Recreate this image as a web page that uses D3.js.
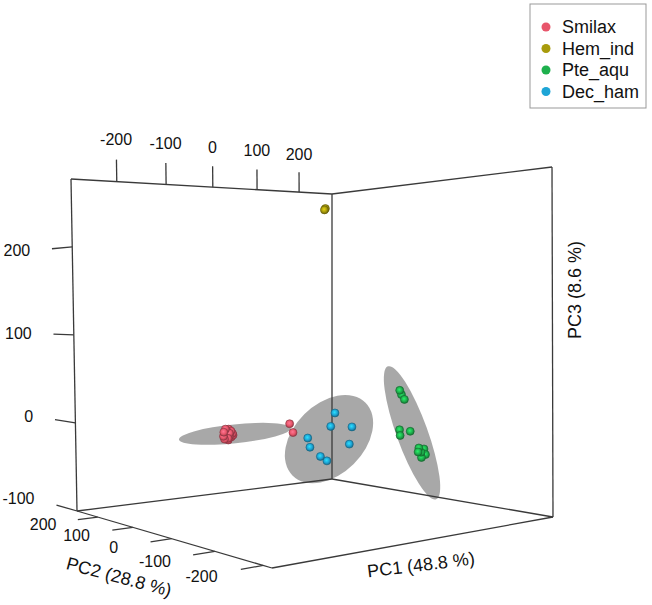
<!DOCTYPE html>
<html>
<head>
<meta charset="utf-8">
<script src="https://cdn.jsdelivr.net/npm/d3@7"></script>
<style>
body { margin: 0; background: #fff; }
svg { display: block; font-family: "Liberation Sans", Arial, sans-serif; }
</style>
</head>
<body>
<div id="chart"></div>
<script>
const groups = ['Smilax', 'Hem_ind', 'Pte_aqu', 'Dec_ham'];
const colors = ['#e8566b', '#a89b0c', '#1eb04d', '#1ea5d6'];

// sample scores: [PC1, PC2, PC3]
const smilax = [
    [-148, 48, -0.5], [-140, 50, -1], [-152, 47, -3.5], [-144, 49, -3],
    [-136, 46, -5.5], [-148, 50, -7], [-140, 48, -7.5], [-144, 47, -10.5],
    [-136, 49, -9.5], [-150, 48, -11], [-142, 46, -5], [-146, 50, -9],
    [-138, 47, -3], [-142, 49, -12.5], [-152, 48, -8], [-134, 47, -7.5],
    [-20, 45, -0.5], [-14, 44, -10.5]
];
const hemInd = [[17, 0, 235.5], [19, 0, 237]];
const pteAqu = [
    [103, -73, 37], [110, -70, 32], [110, -76, 27],
    [103, -72, -6], [101, -75, -12], [128, -71, -9],
    [144, -74, -28], [158, -72, -30], [140, -76, -32], [158, -75, -36],
    [151, -73, -39], [149, -74, -33]
];
const decHam = [
    [40, 5, 11], [22, -4, -2.5], [75, 3, -6], [-25, -2, -13],
    [-15, 4, -24], [61, -5, -24], [5, 2, -35], [14, -3, -40]
];

// bounding box of the plot (data units)
const pc1Range = [-288, 282];
const pc2Range = [-217, 264];
const pc3Range = [-100, 277];
const pc1Ticks = [-200, -100, 0, 100, 200];
const pc2Ticks = [200, 100, 0, -100, -200];
const pc3Ticks = [-100, 0, 100, 200];
const axisTitles = ['PC1 (48.8 %)', 'PC2 (28.8 %)', 'PC3 (8.6 %)'];

const width = 652, height = 605;

// where the 8 box corners land on screen, with their depth (perspective weight)
const boxCorners = [
    {u: 0, v: 0, w: 0, x: 272, y: 568, z: 0.775},
    {u: 1, v: 0, w: 0, x: 553, y: 517, z: 0.94},
    {u: 0, v: 1, w: 0, x: 77,  y: 511, z: 1},
    {u: 1, v: 1, w: 0, x: 332, y: 479, z: 1.165},
    {u: 0, v: 0, w: 1, x: 263, y: 141, z: 0.775},
    {u: 1, v: 0, w: 1, x: 552, y: 167, z: 0.94},
    {u: 0, v: 1, w: 1, x: 71,  y: 179, z: 1},
    {u: 1, v: 1, w: 1, x: 332, y: 194, z: 1.165}
];

const su = d3.scaleLinear().domain(pc1Range).range([0, 1]);
const sv = d3.scaleLinear().domain(pc2Range).range([0, 1]);
const sw = d3.scaleLinear().domain(pc3Range).range([0, 1]);

function proj(u, v, w) {
    let x = 0, y = 0, s = 0;
    boxCorners.forEach(c => {
        const k = (c.u ? u : 1 - u) * (c.v ? v : 1 - v) * (c.w ? w : 1 - w) * c.z;
        x += k * c.x; y += k * c.y; s += k;
    });
    return [x / s, y / s, s];
}

function projPoint(d) {
    return proj(su(d[0]), sv(d[1]), sw(d[2]));
}

// covariance ellipse of the projected points (outline of the 95% ellipsoid)
function ellipseOf(pts, k) {
    const n = pts.length;
    const mx = d3.mean(pts, p => p[0]), my = d3.mean(pts, p => p[1]);
    let sxx = 0, syy = 0, sxy = 0;
    pts.forEach(p => {
        const dx = p[0] - mx, dy = p[1] - my;
        sxx += dx * dx; syy += dy * dy; sxy += dx * dy;
    });
    sxx /= n - 1; syy /= n - 1; sxy /= n - 1;
    const tr = (sxx + syy) / 2;
    const det = Math.sqrt(((sxx - syy) / 2) ** 2 + sxy * sxy);
    const l1 = tr + det, l2 = Math.max(tr - det, 0.5);
    const ang = Math.atan2(l1 - sxx, sxy) * 180 / Math.PI;
    return {cx: mx, cy: my, rx: k * Math.sqrt(l1), ry: k * Math.sqrt(l2), ang: ang};
}

const svg = d3.select('#chart').append('svg')
    .attr('width', width)
    .attr('height', height)
    .style('background', '#fff');

const defs = svg.append('defs');
colors.forEach((c, i) => {
    const g = defs.append('radialGradient')
        .attr('id', 'ball' + i)
        .attr('cx', '45%').attr('cy', '42%').attr('r', '60%');
    g.append('stop').attr('offset', '0%').attr('stop-color', d3.color(c).brighter(0.9));
    g.append('stop').attr('offset', '55%').attr('stop-color', c);
    g.append('stop').attr('offset', '100%').attr('stop-color', d3.color(c).darker(1.2));
});

const samples = [smilax, hemInd, pteAqu, decHam];
let points = [];
samples.forEach((rows, gi) => {
    rows.forEach(d => {
        const p = projPoint(d);
        points.push({g: gi, x: p[0], y: p[1], z: p[2]});
    });
});

// ellipses
let ellipses = samples.map((rows, gi) => {
    if (rows.length < 3) return null;
    const pts = points.filter(p => p.g === gi).map(p => [p.x, p.y]);
    return ellipseOf(pts, 2.7);
}).filter(e => e);

svg.append('g').selectAll('ellipse')
    .data(ellipses)
    .enter().append('ellipse')
    .attr('cx', d => d.cx).attr('cy', d => d.cy)
    .attr('rx', d => d.rx).attr('ry', d => d.ry)
    .attr('transform', d => `rotate(${d.ang},${d.cx},${d.cy})`)
    .attr('fill', '#999999')
    .attr('fill-opacity', 0.85);

// box edges (back walls and floor)
const edges = [
    [[0, 1, 0], [0, 1, 1]], [[1, 1, 0], [1, 1, 1]], [[1, 0, 0], [1, 0, 1]],
    [[0, 1, 1], [1, 1, 1]], [[1, 1, 1], [1, 0, 1]],
    [[0, 1, 0], [1, 1, 0]], [[1, 1, 0], [1, 0, 0]],
    [[0, 1, 0], [0, 0, 0]], [[0, 0, 0], [1, 0, 0]]
];
const box = svg.append('g')
    .attr('stroke', '#3a3a3a')
    .attr('stroke-width', 1.3)
    .attr('fill', 'none');
box.selectAll('line')
    .data(edges)
    .enter().append('line')
    .attr('x1', d => proj(...d[0])[0]).attr('y1', d => proj(...d[0])[1])
    .attr('x2', d => proj(...d[1])[0]).attr('y2', d => proj(...d[1])[1]);

// ticks
function tickSet(ticks, onEdge, tickEnd, labelAt, anchor) {
    const g = svg.append('g');
    ticks.forEach(t => {
        const a = onEdge(t), b = tickEnd(t), l = labelAt(t);
        g.append('line')
            .attr('x1', a[0]).attr('y1', a[1])
            .attr('x2', b[0]).attr('y2', b[1])
            .attr('stroke', '#3a3a3a')
            .attr('stroke-width', 1.3);
        g.append('text')
            .attr('x', l[0]).attr('y', l[1])
            .attr('text-anchor', anchor)
            .attr('dominant-baseline', 'central')
            .attr('font-size', 16)
            .attr('fill', '#111')
            .text(t);
    });
}

tickSet(pc1Ticks,
    t => proj(su(t), 1, 1),
    t => proj(su(t), 1, 1.068),
    t => proj(su(t), 1, 1.13),
    'middle');
tickSet(pc2Ticks,
    t => proj(0, sv(t), 0),
    t => proj(-0.065, sv(t), 0),
    t => proj(-0.175, sv(t), 0),
    'middle');
tickSet(pc3Ticks,
    t => proj(0, 1, sw(t)),
    t => proj(0, 1.14, sw(t)),
    t => proj(0, 1.30, sw(t)),
    'end');

// axis titles
const titlePos = [
    {x: 421, y: 565, rot: -7},
    {x: 119, y: 577, rot: 15},
    {x: 575, y: 290, rot: -90}
];
svg.append('g').selectAll('text')
    .data(axisTitles)
    .enter().append('text')
    .attr('transform', (d, i) => `translate(${titlePos[i].x},${titlePos[i].y}) rotate(${titlePos[i].rot})`)
    .attr('text-anchor', 'middle')
    .attr('dominant-baseline', 'central')
    .attr('font-size', 18)
    .attr('fill', '#111')
    .text(d => d);

// points, far ones first
points.sort((a, b) => b.z - a.z);
svg.append('g').selectAll('circle')
    .data(points)
    .enter().append('circle')
    .attr('cx', d => d.x).attr('cy', d => d.y)
    .attr('r', 4)
    .attr('fill', d => `url(#ball${d.g})`)
    .attr('stroke', d => d3.color(colors[d.g]).darker(1.5))
    .attr('stroke-width', 0.6);

// legend
const legend = svg.append('g');
legend.append('rect')
    .attr('x', 530).attr('y', 4)
    .attr('width', 116).attr('height', 104)
    .attr('fill', '#fff')
    .attr('stroke', '#999');
groups.forEach((name, i) => {
    legend.append('circle')
        .attr('cx', 546).attr('cy', 27 + i * 21.5)
        .attr('r', 4.5)
        .attr('fill', colors[i]);
    legend.append('text')
        .attr('x', 562).attr('y', 27 + i * 21.5)
        .attr('dominant-baseline', 'central')
        .attr('font-size', 18)
        .attr('fill', '#111')
        .text(name);
});
</script>
</body>
</html>
